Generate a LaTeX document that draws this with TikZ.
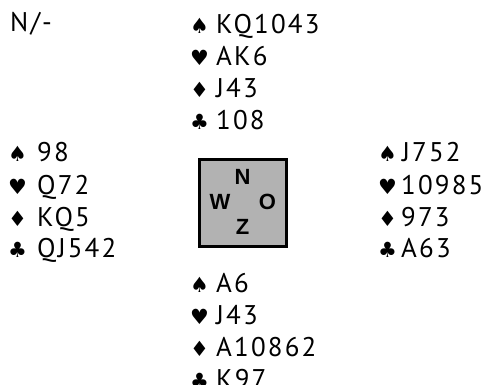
\documentclass[tikz,border=0pt]{standalone}
\usepackage{fontspec}
\setmainfont{PT Sans}[LetterSpace=8]
\newfontfamily\suitfont{DejaVu Sans}
\newfontfamily\boxfont{Liberation Sans}
\begin{document}
\begin{tikzpicture}[x=1pt,y=-1pt,
  hand/.style={anchor=base west,inner sep=0pt,font=\fontsize{27}{27}\selectfont},
  suit/.style={anchor=base west,inner sep=0pt,font=\suitfont\fontsize{21}{21}\selectfont},
  dir/.style={inner sep=0pt,font=\boxfont\bfseries\fontsize{22}{22}\selectfont},
  table/.style={draw=black,line width=3pt,fill=black!30}]
\useasboundingbox (0,0) rectangle (485,385);
\node[hand] (deal) at (10,32) {N/-};
% North
\node[suit] (nss) at (190,34) {♠}; \node[hand] (ns) at (216,34) {KQ1043};
\node[suit] (nhs) at (190,66) {♥}; \node[hand] (nh) at (216,66) {AK6};
\node[suit] (nds) at (190,98) {♦}; \node[hand] (nd) at (216,98) {J43};
\node[suit] (ncs) at (190,130) {♣}; \node[hand] (nc) at (216,130) {108};
% West
\node[suit] (wss) at (8,162) {♠}; \node[hand] (ws) at (37,162) {98};
\node[suit] (whs) at (8,194) {♥}; \node[hand] (wh) at (37,194) {Q72};
\node[suit] (wds) at (8,226) {♦}; \node[hand] (wd) at (37,226) {KQ5};
\node[suit] (wcs) at (8,258) {♣}; \node[hand] (wc) at (37,258) {QJ542};
% East
\node[suit] (ess) at (378,162) {♠}; \node[hand] (es) at (402,162) {J752};
\node[suit] (ehs) at (378,194) {♥}; \node[hand] (eh) at (401,194) {10985};
\node[suit] (eds) at (378,226) {♦}; \node[hand] (ed) at (401,226) {973};
\node[suit] (ecs) at (378,258) {♣}; \node[hand] (ec) at (401,258) {A63};
% South
\node[suit] (sss) at (190,292) {♠}; \node[hand] (ss) at (216,292) {A6};
\node[suit] (shs) at (190,324) {♥}; \node[hand] (sh) at (216,324) {J43};
\node[suit] (sds) at (190,356) {♦}; \node[hand] (sd) at (216,356) {A10862};
\node[suit] (scs) at (190,388) {♣}; \node[hand] (sc) at (216,388) {K97};
% table
\draw[table] (199.5,159.5) rectangle (286.5,246.5);
\node[dir] (dn) at (242.5,176.5) {N};
\node[dir] (dw) at (220,201.5) {W};
\node[dir] (de) at (267.5,201.5) {O};
\node[dir] (dz) at (242.5,227) {Z};
\end{tikzpicture}
\end{document}
